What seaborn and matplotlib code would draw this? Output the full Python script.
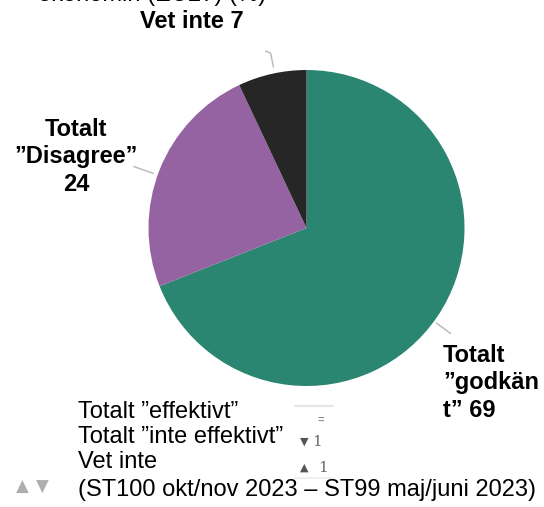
import numpy as np
import matplotlib
matplotlib.use("Agg")
import matplotlib.pyplot as plt
import seaborn as sns

# Survey shares (%)
categories = ["Totalt \u201dgodkänt\u201d", "Totalt \u201dDisagree\u201d", "Vet inte"]
values = [69, 24, 7]
slice_labels = ["Totalt\n\u201dgodkän\nt\u201d 69", "Totalt\n\u201dDisagree\u201d\n24", "Vet inte 7"]
colors = ["#2a8571", "#9663a2", "#262626"]

legend_rows = ["Totalt \u201deffektivt\u201d", "Totalt \u201dinte effektivt\u201d", "Vet inte"]
legend_changes = ["=", "\u25bc1", "\u25b21"]
period_note = "(ST100 okt/nov 2023 \u2013 ST99 maj/juni 2023)"
title_tail = "ekonomin (EU27) (%)"

sns.set_theme(style="white")
plt.rcParams["font.family"] = ["Liberation Sans", "DejaVu Sans"]

W, H = 544, 507
fig = plt.figure(figsize=(W / 100, H / 100), dpi=100)
ax = fig.add_axes([0, 0, 1, 1])

cx, cy, R = 306.5, H - 228, 158
wedges, _ = ax.pie(values, colors=colors, startangle=90, counterclock=False,
                   center=(cx, cy), radius=R, frame=True,
                   wedgeprops=dict(linewidth=0))
ax.set_xlim(0, W)
ax.set_ylim(0, H)
ax.set_aspect("equal")
ax.axis("off")

# Leader lines from each wedge edge towards its label
def leader(wedge, r1, r2, da=0.0, hook=None):
    a = np.deg2rad((wedge.theta1 + wedge.theta2) / 2 + da)
    xs = [cx + r1 * R * np.cos(a), cx + r2 * R * np.cos(a)]
    ys = [cy + r1 * R * np.sin(a), cy + r2 * R * np.sin(a)]
    if hook is not None:
        xs.append(xs[-1] + hook[0])
        ys.append(ys[-1] + hook[1])
    ax.plot(xs, ys, color="#bdbdbd", lw=1.1, solid_capstyle="round")

leader(wedges[0], 1.02, 1.13, da=-2)
leader(wedges[1], 1.03, 1.16, da=2)
leader(wedges[2], 1.04, 1.13, da=-1, hook=(-5, 2))

bold = dict(fontsize=17, fontweight="bold", color="black")
ax.text(192, H - 22, slice_labels[2], ha="center", va="center", **bold)
ax.text(76, H - 157, slice_labels[1], ha="center", va="center", linespacing=1.25, **bold)
ax.text(443, H - 383, slice_labels[0], ha="left", va="center", linespacing=1.25, **bold)

# Partly clipped heading line at the top
ax.text(152, H + 5, title_tail, ha="center", va="center", fontsize=17, color="black")

# Change indicators block
reg = dict(fontsize=17, color="black", va="center", ha="left")
ys = [H - 412, H - 437, H - 462]
for txt, y in zip(legend_rows, ys):
    ax.text(78, y, txt, **reg)
ax.text(78, H - 490, period_note, **reg)

ax.plot([295, 333], [H - 406, H - 406], color="#e6e6e6", lw=1.5)
ax.plot([295, 333], [H - 478, H - 478], color="#f0f0f0", lw=1.5)
ax.text(318, H - 420, legend_changes[0], ha="left", va="center", fontsize=8,
        color="#8c8c8c", fontweight="bold")
for ch, y, x1 in zip(legend_changes[1:], [H - 442, H - 468], [312, 318]):
    ax.text(300, y, ch[0], ha="left", va="center", fontsize=8, color="#555555",
            family="DejaVu Sans")
    ax.text(x1, y, ch[1:], ha="left", va="center", fontsize=11, color="#666666",
            family="DejaVu Serif")
# Up/down key for the change markers
for sym, x in zip(["\u25b2", "\u25bc"], [16, 36]):
    ax.text(x, H - 487, sym, ha="left", va="center", fontsize=12, color="#a0a0a0",
            family="DejaVu Sans", alpha=0.85)

fig.savefig("out.png", dpi=100)
